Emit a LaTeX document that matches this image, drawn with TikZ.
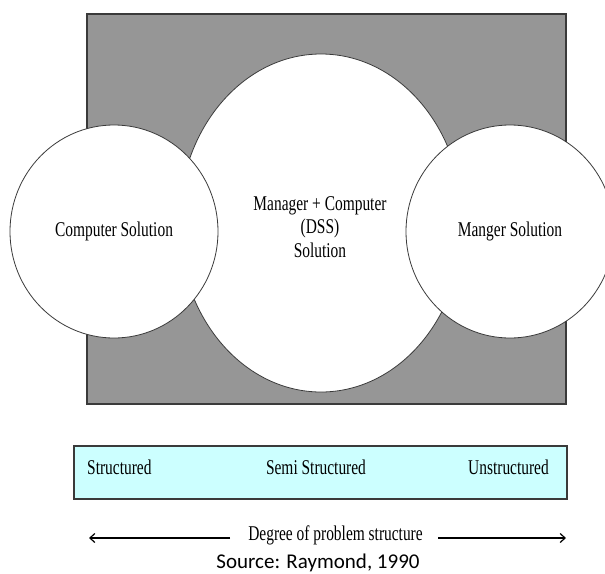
\documentclass[tikz,border=0pt]{standalone}
\usepackage{fontspec}
\newfontfamily\tnr[FakeStretch=0.735]{Liberation Serif}
\newfontfamily\calfont{Carlito}
\usetikzlibrary{shapes.geometric,arrows.meta}
\definecolor{panelgray}{HTML}{969696}
\definecolor{edgegray}{HTML}{3A3A3A}
\definecolor{lightcyan}{HTML}{CCFFFF}
\tikzset{
  serif/.style={font=\tnr\fontsize{21}{23.5}\selectfont, text=black},
  bubble/.style={ellipse, draw=edgegray, line width=0.8pt, fill=white, inner sep=0pt, align=center, serif},
  arr/.style={draw=black, line width=1.2pt, -{Straight Barb[length=5pt,width=9pt,line width=1.2pt]}}
}
\begin{document}
\begin{tikzpicture}[x=1pt,y=-1pt]
\useasboundingbox[fill=white] (0,0) rectangle (605,573);
% gray panel
\node[draw=edgegray, line width=1.2pt, fill=panelgray, minimum width=479pt, minimum height=390pt, inner sep=0pt] (panel) at (326.5,209) {};
% central ellipse
\node[bubble, minimum width=284pt, minimum height=338pt] (dss) at (321,223) {};
\node[serif, align=center, inner sep=0pt] (dsstext) at (320,227) {Manager + Computer\\(DSS)\\Solution};
% side circles
\node[bubble, minimum width=208pt, minimum height=213pt] (comp) at (114,231.5) {Computer Solution};
\node[bubble, minimum width=208pt, minimum height=213pt] (mgr) at (510,231.5) {Manger Solution};
% scale bar
\node[draw=edgegray, line width=1.2pt, fill=lightcyan, minimum width=493pt, minimum height=53pt, inner sep=0pt] (bar) at (320.5,472.5) {};
\node[serif, anchor=west, inner sep=0pt] (st) at (87,467) {Structured};
\node[serif, inner sep=0pt] (semi) at (316,467) {Semi Structured};
\node[serif, anchor=east, inner sep=0pt] (unst) at (549,467) {Unstructured};
% degree arrows
\node[serif, inner ysep=0pt, inner xsep=0pt] (deg) at (335.5,535) {Degree of problem structure};
\coordinate (lend) at (89,538);
\coordinate (rend) at (566,538);
\coordinate (lstart) at (230,538);
\coordinate (rstart) at (438,538);
\draw[arr] (lstart) -- (lend);
\draw[arr] (rstart) -- (rend);
\node[font=\calfont\fontsize{21}{22}\selectfont, inner sep=0pt] (src) at (318,563) {Source: Raymond, 1990};
\end{tikzpicture}
\end{document}
